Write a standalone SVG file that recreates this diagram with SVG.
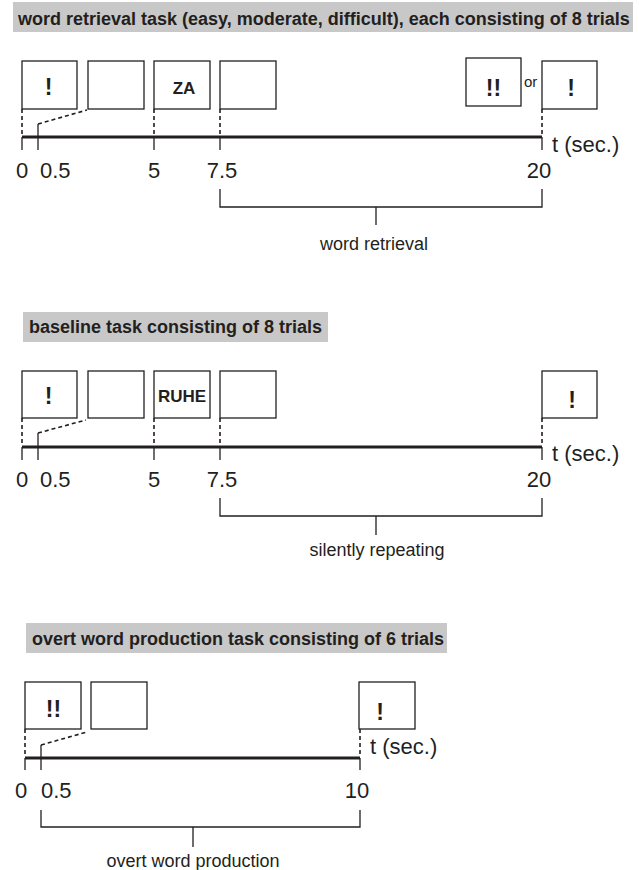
<svg xmlns="http://www.w3.org/2000/svg" width="639" height="870" viewBox="0 0 639 870">
<style>
.bar{fill:#c8c8c8}
.title{font-family:"Liberation Sans",Arial,sans-serif;font-weight:bold;font-size:18px;fill:#231f20}
.box{fill:#fff;stroke:#231f20;stroke-width:1.3}
.mark{font-family:"Liberation Sans",Arial,sans-serif;font-weight:bold;font-size:23px;fill:#231f20;text-anchor:middle}
.word{font-family:"Liberation Sans",Arial,sans-serif;font-weight:bold;font-size:17px;fill:#231f20;text-anchor:middle}
.num{font-family:"Liberation Sans",Arial,sans-serif;font-size:22px;fill:#231f20}
.lbl{font-family:"Liberation Sans",Arial,sans-serif;font-size:18px;fill:#231f20;text-anchor:middle}
.or{font-family:"Liberation Sans",Arial,sans-serif;font-size:15px;fill:#231f20}
.axis{stroke:#231f20;stroke-width:3.2;fill:none}
.tick{stroke:#231f20;stroke-width:1.3;fill:none}
.dash{stroke:#231f20;stroke-width:1.6;fill:none;stroke-dasharray:4 3}
</style>

<!-- Section 1 -->
<g id="title1"><rect class="bar" x="13" y="2" width="620" height="30"/><text class="title" x="18" y="25">word retrieval task (easy, moderate, difficult), each consisting of 8 trials</text></g>
<g id="s1-cue"><rect class="box" x="22" y="61" width="55" height="48"/><text class="mark" x="48.5" y="95">!</text></g>
<g id="s1-blank1"><rect class="box" x="88" y="61" width="56" height="48"/></g>
<g id="s1-stim"><rect class="box" x="154" y="61" width="56" height="48"/><text class="word" x="184" y="94">ZA</text></g>
<g id="s1-blank2"><rect class="box" x="220" y="61" width="56" height="48"/></g>
<g id="s1-end-a"><rect class="box" x="466" y="58" width="55" height="48"/><text class="mark" x="493.5" y="96">!!</text></g>
<g id="s1-or"><text class="or" x="524" y="87">or</text></g>
<g id="s1-end-b"><rect class="box" x="542" y="61" width="55" height="48"/><text class="mark" x="571" y="96">!</text></g>

<g id="s1-connectors">
<line class="axis" x1="22" y1="137" x2="542" y2="137"/>
<path class="dash" d="M22,109V136M154,109V136M220,109V136M542,109V136M38,124L87,110"/>
<path class="tick" d="M22,137V150M38,124V150M154,137V150M220,137V150M542,137V150"/>
<path class="tick" d="M220,189V207H542V189M376,207V225"/>
</g>
<g id="s1-axis-labels">
<text class="num" x="22" y="178" text-anchor="middle">0</text>
<text class="num" x="40" y="178">0.5</text>
<text class="num" x="154" y="178" text-anchor="middle">5</text>
<text class="num" x="222" y="178" text-anchor="middle">7.5</text>
<text class="num" x="539" y="178" text-anchor="middle">20</text>
<text class="num" x="552" y="152">t (sec.)</text>
<text class="lbl" x="374" y="250">word retrieval</text>
</g>

<!-- Section 2 -->
<g id="title2"><rect class="bar" x="23" y="312" width="305" height="30"/><text class="title" x="29" y="333">baseline task consisting of 8 trials</text></g>
<g id="s2-cue"><rect class="box" x="22" y="371" width="55" height="47"/><text class="mark" x="48.5" y="404">!</text></g>
<g id="s2-blank1"><rect class="box" x="88" y="371" width="56" height="47"/></g>
<g id="s2-stim"><rect class="box" x="154" y="371" width="56" height="47"/><text class="word" x="182" y="402">RUHE</text></g>
<g id="s2-blank2"><rect class="box" x="220" y="371" width="56" height="47"/></g>
<g id="s2-end"><rect class="box" x="542" y="371" width="55" height="47"/><text class="mark" x="572" y="408">!</text></g>

<g id="s2-connectors">
<line class="axis" x1="22" y1="447" x2="542" y2="447"/>
<path class="dash" d="M22,418V446M154,418V446M220,418V446M542,418V446M38,433L86,420"/>
<path class="tick" d="M22,447V460M38,433V460M154,447V460M220,447V460M542,447V460"/>
<path class="tick" d="M220,498V516H542V498M376,516V535"/>
</g>
<g id="s2-axis-labels">
<text class="num" x="22" y="487" text-anchor="middle">0</text>
<text class="num" x="40" y="487">0.5</text>
<text class="num" x="154" y="487" text-anchor="middle">5</text>
<text class="num" x="222" y="487" text-anchor="middle">7.5</text>
<text class="num" x="539" y="487" text-anchor="middle">20</text>
<text class="num" x="552" y="461">t (sec.)</text>
<text class="lbl" x="377" y="556">silently repeating</text>
</g>

<!-- Section 3 -->
<g id="title3"><rect class="bar" x="26" y="623" width="421" height="30"/><text class="title" x="32" y="645">overt word production task consisting of 6 trials</text></g>
<g id="s3-cue"><rect class="box" x="25" y="682" width="56" height="47"/><text class="mark" x="53.5" y="717">!!</text></g>
<g id="s3-blank"><rect class="box" x="91" y="682" width="56" height="47"/></g>
<g id="s3-end"><rect class="box" x="359" y="682" width="56" height="47"/><text class="mark" x="380" y="720">!</text></g>

<g id="s3-connectors">
<line class="axis" x1="25" y1="758" x2="360" y2="758"/>
<path class="dash" d="M25,729V757M360,729V757M41,745L87,732"/>
<path class="tick" d="M25,758V770M41,745V770M360,758V770"/>
<path class="tick" d="M41,810V827H360V810M193,827V847"/>
</g>
<g id="s3-axis-labels">
<text class="num" x="21" y="798" text-anchor="middle">0</text>
<text class="num" x="41" y="798">0.5</text>
<text class="num" x="357" y="798" text-anchor="middle">10</text>
<text class="num" x="370" y="754">t (sec.)</text>
<text class="lbl" x="193" y="867">overt word production</text>
</g>
</svg>
